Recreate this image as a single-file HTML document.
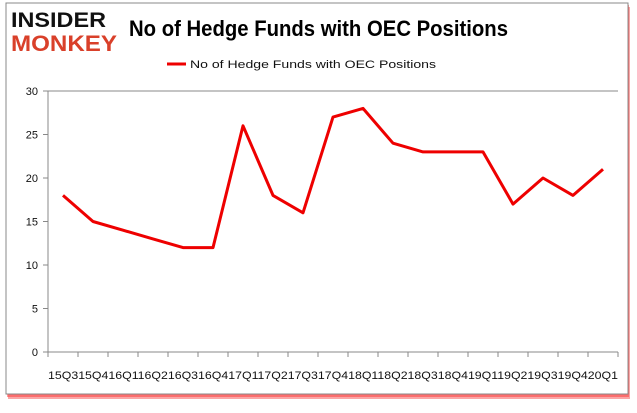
<!DOCTYPE html>
<html><head><style>
body{margin:0;background:#fff;width:637px;height:408px;overflow:hidden;font-family:"Liberation Sans",sans-serif;}
</style></head><body>
<svg width="637" height="408" xmlns="http://www.w3.org/2000/svg">
<rect x="8" y="7" width="622" height="392" fill="#e00" opacity="0.35"/>
<rect x="7" y="5" width="622" height="392" fill="#f33" opacity="0.5"/>
<rect x="6" y="3" width="622" height="391" fill="#fff" stroke="#888" stroke-width="1"/>
<text x="11" y="27" font-size="21" font-weight="bold" fill="#111" textLength="95" lengthAdjust="spacingAndGlyphs">INSIDER</text>
<text x="11" y="51" font-size="22" font-weight="bold" fill="#d9402a" textLength="106" lengthAdjust="spacingAndGlyphs">MONKEY</text>
<text x="129" y="36" font-size="22" font-weight="bold" fill="#000" textLength="379" lengthAdjust="spacingAndGlyphs">No of Hedge Funds with OEC Positions</text>
<line x1="167" y1="64" x2="186" y2="64" stroke="#e00" stroke-width="3"/>
<text x="190" y="68" font-size="11" fill="#111" textLength="246" lengthAdjust="spacingAndGlyphs">No of Hedge Funds with OEC Positions</text>
<g stroke="#888" stroke-width="1">
<line x1="48" y1="91" x2="618" y2="91"/>
<line x1="48" y1="91" x2="48" y2="352"/>
<line x1="48" y1="352" x2="618" y2="352"/>
<line x1="43" y1="91" x2="48" y2="91"/><line x1="43" y1="134.5" x2="48" y2="134.5"/><line x1="43" y1="178" x2="48" y2="178"/><line x1="43" y1="221.5" x2="48" y2="221.5"/><line x1="43" y1="265" x2="48" y2="265"/><line x1="43" y1="308.5" x2="48" y2="308.5"/><line x1="43" y1="352" x2="48" y2="352"/>
</g>
<g font-size="11" fill="#111" text-anchor="end">
<text x="38" y="95">30</text><text x="38" y="138.5">25</text><text x="38" y="182">20</text><text x="38" y="225.5">15</text><text x="38" y="269">10</text><text x="38" y="312.5">5</text><text x="38" y="356">0</text>
</g>
<g stroke="#888">
<line x1="48" y1="352" x2="48" y2="357"/><line x1="78" y1="352" x2="78" y2="357"/><line x1="108" y1="352" x2="108" y2="357"/><line x1="138" y1="352" x2="138" y2="357"/><line x1="168" y1="352" x2="168" y2="357"/><line x1="198" y1="352" x2="198" y2="357"/><line x1="228" y1="352" x2="228" y2="357"/><line x1="258" y1="352" x2="258" y2="357"/><line x1="288" y1="352" x2="288" y2="357"/><line x1="318" y1="352" x2="318" y2="357"/><line x1="348" y1="352" x2="348" y2="357"/><line x1="378" y1="352" x2="378" y2="357"/><line x1="408" y1="352" x2="408" y2="357"/><line x1="438" y1="352" x2="438" y2="357"/><line x1="468" y1="352" x2="468" y2="357"/><line x1="498" y1="352" x2="498" y2="357"/><line x1="528" y1="352" x2="528" y2="357"/><line x1="558" y1="352" x2="558" y2="357"/><line x1="588" y1="352" x2="588" y2="357"/><line x1="618" y1="352" x2="618" y2="357"/>
</g>
<text x="48" y="379" font-size="11" fill="#111" textLength="570" lengthAdjust="spacingAndGlyphs">15Q315Q416Q116Q216Q316Q417Q117Q217Q317Q418Q118Q218Q318Q419Q119Q219Q319Q420Q1</text>
<polyline fill="none" stroke="#e00" stroke-width="3" stroke-linejoin="round" points="63,195.4 93,221.5 123,230.2 153,238.9 183,247.6 213,247.6 243,125.8 273,195.4 303,212.8 333,117.1 363,108.4 393,143.2 423,151.9 453,151.9 483,151.9 513,204.1 543,178 573,195.4 603,169.3"/>
</svg>
</body></html>
